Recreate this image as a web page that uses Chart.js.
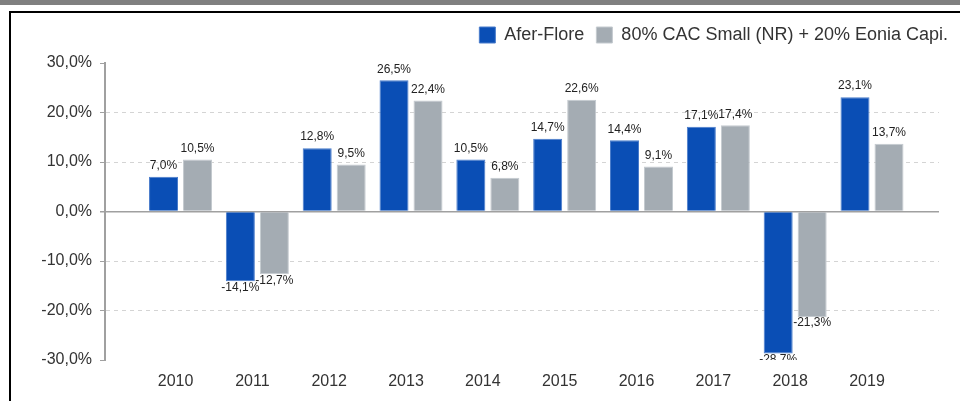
<!DOCTYPE html>
<html>
<head>
<meta charset="utf-8">
<script src="https://cdn.jsdelivr.net/npm/chart.js@4.4.1/dist/chart.umd.min.js"></script>
<style>
  html, body { margin: 0; padding: 0; background: #fff; }
  #wrap { position: relative; width: 960px; height: 401px; overflow: hidden; }
  #topbar { position: absolute; left: 0; top: 0; width: 960px; height: 5px; background: #808080; }
  #frameTop { position: absolute; left: 9px; top: 11px; width: 951px; height: 2px; background: #000; }
  #frameLeft { position: absolute; left: 9px; top: 11px; width: 2px; height: 390px; background: #000; }
  canvas { position: absolute; left: 0; top: 0; }
</style>
</head>
<body>
<div id="wrap">
  <div id="topbar"></div>
  <div id="frameTop"></div>
  <div id="frameLeft"></div>
  <canvas id="chart" width="960" height="401"></canvas>
</div>
<script>
"use strict";

// annual performance, in %
var years = [2010, 2011, 2012, 2013, 2014, 2015, 2016, 2017, 2018, 2019];
var aferFlore = [7.0, -14.1, 12.8, 26.5, 10.5, 14.7, 14.4, 17.1, -28.7, 23.1];
var benchmark = [10.5, -12.7, 9.5, 22.4, 6.8, 22.6, 9.1, 17.4, -21.3, 13.7];
var seriesNames = ["Afer-Flore", "80% CAC Small (NR) + 20% Eonia Capi."];
var yMin = -30, yMax = 30, yStep = 10;

var FONT = "'Liberation Sans', Arial, sans-serif";
Chart.defaults.font.family = FONT;
Chart.defaults.color = "#333";

function pct(v) {
  return v.toFixed(1).replace(".", ",") + "%";
}

function points(values) {
  return years.map(function(yr, i) { return { x: yr, y: values[i] }; });
}

// pushes the plot area down under the legend
var legendSpacer = {
  id: "legendSpacer",
  beforeLayout: function(chart) {
    var legend = chart.legend;
    if (legend && !legend._spaced) {
      var fit = legend.fit;
      legend.fit = function() { fit.call(this); this.height = 49; };
      legend._spaced = true;
    }
  }
};

var valueLabels = {
  id: "valueLabels",
  afterDatasetsDraw: function(chart) {
    var ctx = chart.ctx;
    var area = chart.chartArea;
    ctx.save();
    ctx.beginPath();
    ctx.rect(area.left, 0, area.right - area.left, area.bottom);
    ctx.clip();
    ctx.font = "12px " + FONT;
    ctx.fillStyle = "#222";
    ctx.textAlign = "center";
    chart.data.datasets.forEach(function(ds, di) {
      var meta = chart.getDatasetMeta(di);
      meta.data.forEach(function(bar, i) {
        var v = ds.data[i].y;
        if (v >= 0) {
          ctx.textBaseline = "bottom";
          ctx.fillText(pct(v), bar.x, bar.y - 5);
        } else {
          ctx.textBaseline = "top";
          ctx.fillText(pct(v), bar.x, bar.y);
        }
      });
    });
    ctx.restore();
  }
};

new Chart(document.getElementById("chart"), {
  type: "bar",
  data: {
    datasets: [{
      label: seriesNames[0],
      data: points(aferFlore),
      backgroundColor: "#0a4eb5",
      borderColor: "#4a7ccb",
      borderWidth: 1
    }, {
      label: seriesNames[1],
      data: points(benchmark),
      backgroundColor: "#a4acb3",
      borderColor: "#c4cacf",
      borderWidth: 1
    }]
  },
  options: {
    responsive: false,
    animation: false,
    categoryPercentage: 0.885,
    barPercentage: 0.853,
    layout: { padding: { top: 14, left: 0, right: 0, bottom: 0 } },
    plugins: {
      legend: {
        align: "end",
        labels: {
          boxWidth: 16,
          boxHeight: 16,
          padding: 12,
          color: "#333",
          font: { size: 18 }
        }
      },
      tooltip: { enabled: false }
    },
    scales: {
      x: {
        type: "linear",
        offset: false,
        min: 2009.017,
        max: 2019.872,
        grid: { display: false, drawTicks: false },
        border: { display: false },
        afterBuildTicks: function(scale) {
          scale.ticks = years.map(function(yr) { return { value: yr }; });
        },
        afterFit: function(scale) { scale.height = 41; },
        ticks: {
          padding: 12,
          labelOffset: -5,
          autoSkip: false,
          maxRotation: 0,
          color: "#333",
          font: { size: 16 },
          callback: function(v) { return String(v); }
        }
      },
      y: {
        min: yMin,
        max: yMax,
        afterFit: function(scale) { scale.width = 105; },
        ticks: {
          stepSize: yStep,
          padding: 8,
          color: "#333",
          font: { size: 16 },
          callback: function(v) { return pct(v); }
        },
        grid: {
          tickLength: 5,
          tickColor: "#a0a0a0",
          color: function(c) {
            if (!c.tick) return "#d4d4d4";
            if (c.tick.value === 0) return "#a0a0a0";
            if (c.tick.value === yMin || c.tick.value === yMax) return "rgba(0,0,0,0)";
            return "#d4d4d4";
          },
          lineWidth: function(c) {
            return c.tick && c.tick.value === 0 ? 1.5 : 1;
          }
        },
        border: {
          color: "#a0a0a0",
          width: 2,
          dash: function(c) {
            return c.tick && c.tick.value !== 0 ? [4, 4] : [];
          }
        }
      },
      yRight: {
        position: "right",
        display: true,
        grid: { display: false, drawTicks: false },
        border: { display: false },
        ticks: { display: false },
        afterFit: function(scale) { scale.width = 21; }
      }
    }
  },
  plugins: [legendSpacer, valueLabels]
});
</script>
</body>
</html>
